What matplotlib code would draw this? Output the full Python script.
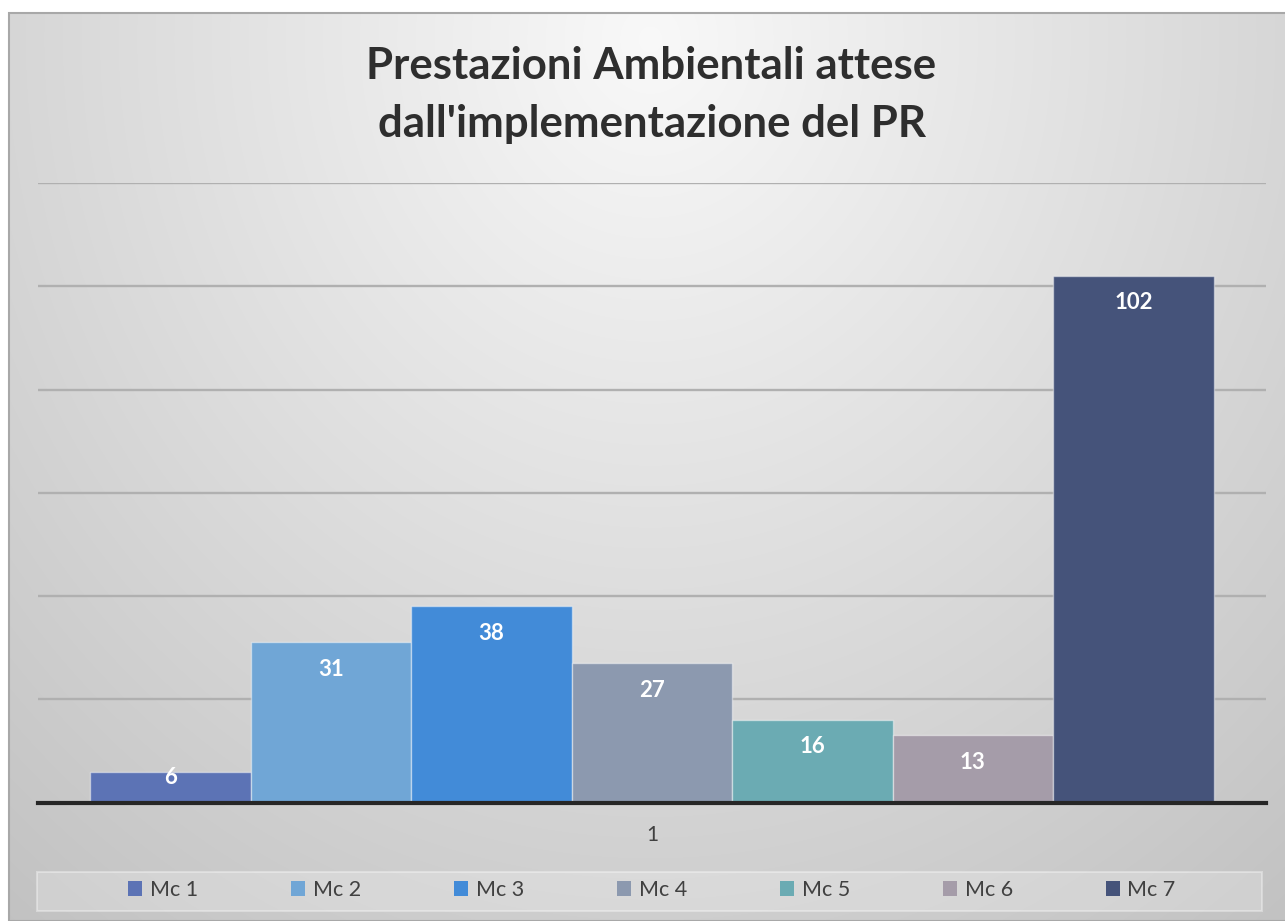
import numpy as np
import matplotlib.pyplot as plt
from matplotlib.patches import Rectangle

# dati del grafico
title_lines = ["Prestazioni Ambientali attese", "dall'implementazione del PR"]
categories = ["1"]
series = ["Mc 1", "Mc 2", "Mc 3", "Mc 4", "Mc 5", "Mc 6", "Mc 7"]
values = [6, 31, 38, 27, 16, 13, 102]
colors = ["#5c73b5", "#70a6d6", "#428bd8", "#8c99af", "#6babb3", "#a59ca9", "#45537a"]
yticks = [0, 20, 40, 60, 80, 100, 120]

W, H = 1285, 921
plt.rcParams['font.family'] = ['Lato', 'DejaVu Sans']

fig = plt.figure(figsize=(W / 100, H / 100), dpi=100)
fig.patch.set_facecolor("white")

# sfondo con sfumatura radiale (chiaro in alto al centro)
bg = fig.add_axes([9 / W, 0, 1 - 9 / W, (H - 13) / H], zorder=-2)
yy, xx = np.mgrid[13:H, 9:W]
r = np.sqrt(((xx - 650) / 900.0) ** 2 + ((yy - 40) / 1000.0) ** 2)
shade = np.clip(0.975 - 0.19 * r, 0, 1)
bg.imshow(np.dstack([shade] * 3), aspect="auto", interpolation="bilinear")
bg.axis("off")
fig.patches.append(Rectangle((9 / W, 0), 1, (H - 13) / H, transform=fig.transFigure,
                             fill=False, edgecolor="#a8a8a8", lw=1.5, zorder=-1))

# area del grafico
ax = fig.add_axes([38 / W, (H - 802.5) / H, (1266 - 38) / W, (802.5 - 183) / H])
ax.set_facecolor("none")
n = len(series)
bw = 0.9145 / n
handles = []
for i, (name, v, c) in enumerate(zip(series, values, colors)):
    x = (i - (n - 1) / 2) * bw
    b = ax.bar(x, v, width=bw, color=c, edgecolor=(1, 1, 1, 0.45), linewidth=1.0,
               label=name, zorder=3)
    handles.append(b)
    off = -27 if v > 10 else -6
    ax.annotate(str(v), (x, v), xytext=(0, off * 0.72), textcoords="offset points",
                ha="center", va="center", color="white", fontsize=16,
                fontweight="bold", zorder=4)

ax.set_xlim(-0.5, 0.5)
ax.set_ylim(yticks[0], yticks[-1])
ax.set_yticks(yticks)
ax.yaxis.grid(True, color="#b0b0b0", lw=1.7, zorder=1)
ax.tick_params(axis="y", length=0, labelleft=False)
ax.set_xticks([0])
ax.set_xticklabels(categories, fontsize=15, color="#404040")
ax.tick_params(axis="x", length=0, pad=16)
for s in ["top", "left", "right"]:
    ax.spines[s].set_visible(False)
ax.spines["bottom"].set_color("#262626")
ax.spines["bottom"].set_linewidth(3)
ax.spines["bottom"].set_zorder(5)

# titolo su due righe
fig.text(651.5 / W, (H - 79) / H, title_lines[0], ha="center", va="baseline",
         fontsize=31.5, fontweight="bold", color="#2e2e2e")
fig.text(651.5 / W, (H - 137) / H, title_lines[1], ha="center", va="baseline",
         fontsize=31.5, fontweight="bold", color="#2e2e2e")

# legenda in basso (riquadro chiaro sotto le voci)
fig.patches.append(Rectangle((37 / W, (H - 911) / H), 1225 / W, 39 / H,
                             transform=fig.transFigure, facecolor=(1, 1, 1, 0.22),
                             edgecolor=(1, 1, 1, 0.35), lw=1.5, zorder=-1))
leg = ax.legend(handles=handles, labels=series, ncol=n, loc="center",
                bbox_to_anchor=(652 / W, (H - 890) / H), bbox_transform=fig.transFigure,
                frameon=False, fontsize=15.5, handlelength=0.65, handleheight=0.65,
                handletextpad=0.35, columnspacing=4.33, labelcolor="#404040")
for h in leg.legend_handles:
    h.set_edgecolor("none")

fig.savefig("out.png", dpi=100)
